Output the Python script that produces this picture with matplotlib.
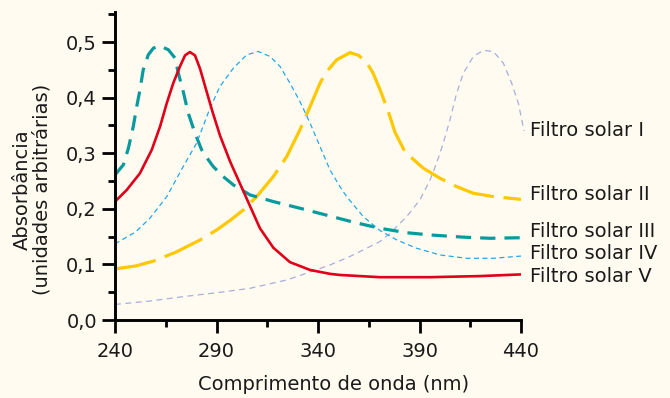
import matplotlib
matplotlib.use("Agg")
import matplotlib.pyplot as plt
from matplotlib.ticker import MultipleLocator, FuncFormatter

plt.rcParams['font.family'] = ['DejaVu Sans']
plt.rcParams['lines.scale_dashes'] = False

# Filtro solar I (lavanda)
wl_1 = [240, 257, 273.5, 290, 306.5, 315, 324.6, 335, 345.9, 355, 362.3, 370.5, 375.5, 383.7, 390.2, 395.2, 398.4,
        401.7, 405, 408.3, 411.6, 416.5, 421.4, 426.4, 431.3, 435.4, 438.7, 441.5]
abs_1 = [0.028, 0.034, 0.042, 0.049, 0.057, 0.064, 0.072, 0.085, 0.099, 0.113, 0.126, 0.141, 0.156, 0.186, 0.216, 0.252, 0.282,
         0.318, 0.36, 0.408, 0.444, 0.474, 0.485, 0.483, 0.462, 0.426, 0.39, 0.34]
# Filtro solar II (amarelo)
wl_2 = [240, 250, 259, 270, 281.9, 290.1, 297, 303.2, 309.8, 318, 324.6, 331.1, 336.1, 341, 344.3, 349.2, 355.8,
        360, 364, 367, 370.5, 374.6, 377.9, 382.9, 391.9, 400.1, 408.3, 416.5, 426.4, 434.6, 440]
abs_2 = [0.092, 0.097, 0.106, 0.122, 0.144, 0.162, 0.18, 0.198, 0.222, 0.258, 0.294, 0.342, 0.384, 0.426, 0.447, 0.468, 0.481,
         0.476, 0.463, 0.445, 0.415, 0.375, 0.338, 0.302, 0.273, 0.255, 0.24, 0.228, 0.222, 0.219, 0.217]
# Filtro solar III (verde-azulado)
wl_3 = [240, 244.1, 246.6, 249, 250.7, 252.3, 253.9, 256.4, 258.9, 262.2, 266.3, 269.6, 271.2, 273.6, 276.1, 279.4,
        282.7, 286, 288.4, 293.3, 298.3, 306.5, 318, 331.1, 345.9, 357.4, 370.5, 383.7, 395.2, 411.6, 424.7, 440]
abs_3 = [0.261, 0.279, 0.309, 0.348, 0.384, 0.414, 0.45, 0.477, 0.489, 0.493, 0.486, 0.471, 0.444, 0.411, 0.372, 0.336,
         0.306, 0.288, 0.276, 0.258, 0.243, 0.225, 0.213, 0.201, 0.187, 0.176, 0.165, 0.157, 0.153, 0.149, 0.147, 0.148]
# Filtro solar IV (azul)
wl_4 = [240, 250, 257.2, 265.5, 273.6, 280.2, 286.8, 291.7, 298.3, 304.9, 310.6, 316.4, 321.3, 326.2, 331.1, 336.1,
        341, 345.9, 350.8, 354.1, 362.3, 370.5, 378.8, 388.6, 400.1, 413.2, 426.4, 440]
abs_4 = [0.137, 0.158, 0.183, 0.222, 0.276, 0.318, 0.381, 0.42, 0.453, 0.477, 0.483, 0.474, 0.456, 0.426, 0.393, 0.354,
         0.312, 0.27, 0.24, 0.222, 0.186, 0.161, 0.144, 0.129, 0.117, 0.111, 0.111, 0.115]
# Filtro solar V (vermelho)
wl_5 = [240, 245.8, 252.3, 258.1, 262.2, 265.5, 268.7, 272, 274.5, 276.9, 279.4, 281.9, 285.2, 288, 291.7, 296.7,
        301.6, 306.5, 311.4, 318, 326.2, 336.1, 345.9, 350.8, 370.5, 395.2, 419.8, 440]
abs_5 = [0.213, 0.234, 0.264, 0.306, 0.348, 0.39, 0.426, 0.456, 0.476, 0.482, 0.476, 0.452, 0.41, 0.375, 0.332, 0.285,
         0.245, 0.205, 0.165, 0.13, 0.104, 0.09, 0.083, 0.081, 0.077, 0.077, 0.079, 0.082]

labels = ["Filtro solar I", "Filtro solar II", "Filtro solar III", "Filtro solar IV", "Filtro solar V"]
label_y = [0.34, 0.225, 0.16, 0.119, 0.079]

bg = '#fffbf0'
fig = plt.figure(figsize=(6.7, 3.98), dpi=100, facecolor=bg)
ax = fig.add_axes([115/670, 1 - 320/398, 406/670, 308/398], facecolor=bg)

ax.plot(wl_1, abs_1, color='#a8aee0', lw=0.9, dashes=(4.3, 3.2), clip_on=False)
ax.plot(wl_2, abs_2, color='#ffc800', lw=2.3, dashes=(30, 7))
ax.plot(wl_3, abs_3, color='#0a9a9e', lw=2.3, dashes=(11, 6.5))
ax.plot(wl_4, abs_4, color='#22a8e8', lw=0.9, dashes=(3.6, 2.5))
ax.plot(wl_5, abs_5, color='#e0001a', lw=1.9)

for lab, y in zip(labels, label_y):
    ax.text(444.4, y, lab, fontsize=14, color='#1a1a1a', va='center', ha='left', clip_on=False)

ax.set_xlim(240, 440)
ax.set_ylim(0, 0.554)
for s in ['top', 'right']:
    ax.spines[s].set_visible(False)
for s in ['left', 'bottom']:
    ax.spines[s].set_linewidth(2.1)

ax.set_xticks([240, 290, 340, 390, 440])
ax.set_xticks([265, 315, 365, 415], minor=True)
ax.yaxis.set_major_locator(MultipleLocator(0.1))
ax.yaxis.set_minor_locator(MultipleLocator(0.05))
ax.yaxis.set_major_formatter(FuncFormatter(lambda v, p: f"{v:.1f}".replace('.', ',')))
ax.tick_params(which='major', length=9.5, width=2, labelsize=14, colors='black', labelcolor='#1a1a1a')
ax.tick_params(which='minor', length=5, width=2)
ax.tick_params(axis='x', pad=6)

fig.text(334/670, 0.035, "Comprimento de onda (nm)", fontsize=14, color='#1a1a1a', ha='center', va='center')
fig.text(0.048, 0.523, "Absorbância\n(unidades arbitrárias)", fontsize=14, color='#1a1a1a',
         ha='center', va='center', rotation=90, multialignment='center', linespacing=1.1)

fig.savefig("out.png", dpi=100, facecolor=bg)
